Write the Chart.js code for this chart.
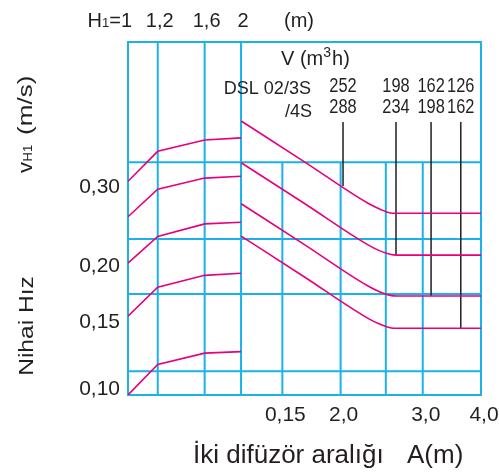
<!DOCTYPE html>
<html>
<head>
<meta charset="utf-8">
<script src="https://cdn.jsdelivr.net/npm/chart.js@4/dist/chart.umd.min.js"></script>
<style>
  body { margin: 0; background: #fff; }
  canvas { display: block; }
</style>
</head>
<body>
<canvas id="chart" width="499" height="472"></canvas>
<script>
// left part: H1 (m)
const h1Ticks = [1, 1.2, 1.6, 2];
const h1Labels = ["1", "1,2", "1,6", "2"];
const curvesH1 = [
  [0.300, 0.350, 0.371, 0.375],
  [0.250, 0.288, 0.305, 0.308],
  [0.197, 0.226, 0.241, 0.243],
  [0.150, 0.174, 0.185, 0.187],
  [0.100, 0.117, 0.124, 0.125]
];

// right part: A (m), distance between two diffusers
const aPoints = [1.224, 1.67, 2.29, 2.43, 2.553, 2.643, 4];
const curvesA = [
  [0.409, 0.332, 0.268, 0.260, 0.255, 0.2545, 0.2545],
  [0.330, 0.268, 0.2164, 0.2098, 0.2062, 0.2053, 0.2053],
  [0.2673, 0.2169, 0.1751, 0.1698, 0.1669, 0.1663, 0.1663],
  [0.2264, 0.1837, 0.1483, 0.1438, 0.1413, 0.1409, 0.1409]
];
const aTicks = [1.5, 2, 3, 4];
const aLabels = ["0,15", "2,0", "3,0", "4,0"];
const aGrid = [1.5, 2, 2.5, 3, 4];

// vH1 (m/s)
const vTicks = [0.1, 0.15, 0.2, 0.3];
const vLabels = ["0,10", "0,15", "0,20", "0,30"];
const vGrid = [0.113, 0.168, 0.223, 0.331];

// V (m3/h) markers, DSL 02/3S and /4S
const markerA = [2.024, 2.629, 3.126, 3.62];
const markerTop = 0.407;
const markerEnd = [0.2928, 0.2053, 0.1663, 0.1409];
const flow3S = ["252", "198", "162", "126"];
const flow4S = ["288", "234", "198", "162"];

const cyan = "#1CB1E7";
const pink = "#E6007E";
const ink = "#231F20";
const FONT = '"Liberation Sans", Arial, sans-serif';

function txt(ctx, s, x, y, size, align, sx) {
  ctx.save();
  ctx.font = size + "px " + FONT;
  ctx.textAlign = align || "left";
  ctx.textBaseline = "alphabetic";
  ctx.translate(x, y);
  ctx.scale(sx || 1, 1);
  ctx.fillText(s, 0, 0);
  const w = ctx.measureText(s).width * (sx || 1);
  ctx.restore();
  return w;
}

const datasets = [];
curvesH1.forEach(vals => {
  datasets.push({
    xAxisID: "xH",
    data: h1Ticks.map((h, i) => ({x: h, y: vals[i]})),
    borderColor: pink, borderWidth: 1.6, tension: 0
  });
});
curvesA.forEach(vals => {
  datasets.push({
    xAxisID: "x",
    data: aPoints.map((a, i) => ({x: a, y: vals[i]})),
    borderColor: pink, borderWidth: 1.6, cubicInterpolationMode: "monotone"
  });
});
markerA.forEach((a, i) => {
  datasets.push({
    xAxisID: "x",
    data: [{x: a, y: markerTop}, {x: a, y: markerEnd[i]}],
    borderColor: ink, borderWidth: 1.5
  });
});

const nomogram = {
  id: "nomogram",
  beforeDatasetsDraw(chart) {
    const {ctx, chartArea: a, scales} = chart;
    const {x, xH, y} = scales;
    ctx.save();
    ctx.strokeStyle = cyan;
    ctx.lineWidth = 2;
    ctx.beginPath();
    vGrid.forEach(v => {
      const py = y.getPixelForValue(v);
      ctx.moveTo(a.left, py); ctx.lineTo(a.right, py);
    });
    h1Ticks.forEach(h => {
      const px = xH.getPixelForValue(h);
      ctx.moveTo(px, a.top); ctx.lineTo(px, a.bottom);
    });
    const gTop = y.getPixelForValue(vGrid[vGrid.length - 1]);
    aGrid.forEach(v => {
      const px = x.getPixelForValue(v);
      ctx.moveTo(px, gTop); ctx.lineTo(px, a.bottom);
    });
    ctx.stroke();
    ctx.strokeRect(a.left, a.top, a.right - a.left, a.bottom - a.top);
    ctx.restore();
  },
  afterDraw(chart) {
    const {ctx, chartArea: a, scales} = chart;
    const {x, xH, y} = scales;
    ctx.save();
    ctx.fillStyle = ink;

    // top row: H1 values
    h1Ticks.forEach((h, i) => {
      const px = xH.getPixelForValue(h);
      if (i === 0) {
        let w = txt(ctx, "=1", px + 4, 27, 20, "right");
        let left = px + 4 - w;
        w = txt(ctx, "1", left, 27, 13, "right");
        left -= w;
        txt(ctx, "H", left, 27, 20, "right");
      } else {
        txt(ctx, h1Labels[i], px + 2, 27, 20, "center");
      }
    });
    txt(ctx, "(m)", xH.getPixelForValue(h1Ticks[h1Ticks.length - 1]) + 58, 27, 20, "center");

    // y tick labels
    vTicks.forEach((v, i) => {
      const py = Math.min(y.getPixelForValue(v) + 12, a.bottom);
      txt(ctx, vLabels[i], a.left - 8, py, 21, "right");
    });

    // bottom tick labels
    aTicks.forEach((v, i) => {
      txt(ctx, aLabels[i], x.getPixelForValue(v) + 3, 421, 21, "center");
    });

    // x title
    txt(ctx, "İki difüzör aralığı", 193, 463, 26, "left");
    txt(ctx, "A(m)", 407, 463, 26, "left");

    // V (m3h) block
    let px = 281;
    px += txt(ctx, "V (m", px, 65, 20, "left");
    px += txt(ctx, "3", px, 57, 14, "left") + 1;
    txt(ctx, "h)", px, 65, 20, "left");
    txt(ctx, "DSL 02/3S", 311, 94, 19, "right", 0.95);
    txt(ctx, "/4S", 312, 117, 19, "right", 0.95);
    markerA.forEach((m, i) => {
      const mx = x.getPixelForValue(m);
      txt(ctx, flow3S[i], mx, 92, 20, "center", 0.82);
      txt(ctx, flow4S[i], mx, 112.5, 20, "center", 0.82);
    });

    // y titles, rotated
    ctx.save();
    ctx.translate(32, 173);
    ctx.rotate(-Math.PI / 2);
    let tx = 0;
    tx += txt(ctx, "v", tx, 0, 20, "left", 1.1) + 0.5;
    tx += txt(ctx, "H1", tx, 0, 13, "left", 1.0);
    txt(ctx, "(m/s)", tx + 10, 0, 20, "left", 1.3);
    ctx.restore();

    ctx.save();
    ctx.translate(33, 326);
    ctx.rotate(-Math.PI / 2);
    txt(ctx, "Nihai Hız", 0, 0, 21, "center", 1.17);
    ctx.restore();

    ctx.restore();
  }
};

new Chart(document.getElementById("chart"), {
  type: "line",
  data: {datasets: datasets},
  options: {
    responsive: false,
    animation: false,
    layout: {padding: {left: 128, top: 42, right: 18, bottom: 77}},
    elements: {point: {radius: 0}},
    plugins: {legend: {display: false}, tooltip: {enabled: false}},
    scales: {
      x: {type: "logarithmic", min: 0.7, max: 4, display: false},
      xH: {type: "logarithmic", min: 1, max: 8.71, display: false},
      y: {type: "logarithmic", min: 0.1, max: 0.614, display: false}
    }
  },
  plugins: [nomogram]
});
</script>
</body>
</html>
